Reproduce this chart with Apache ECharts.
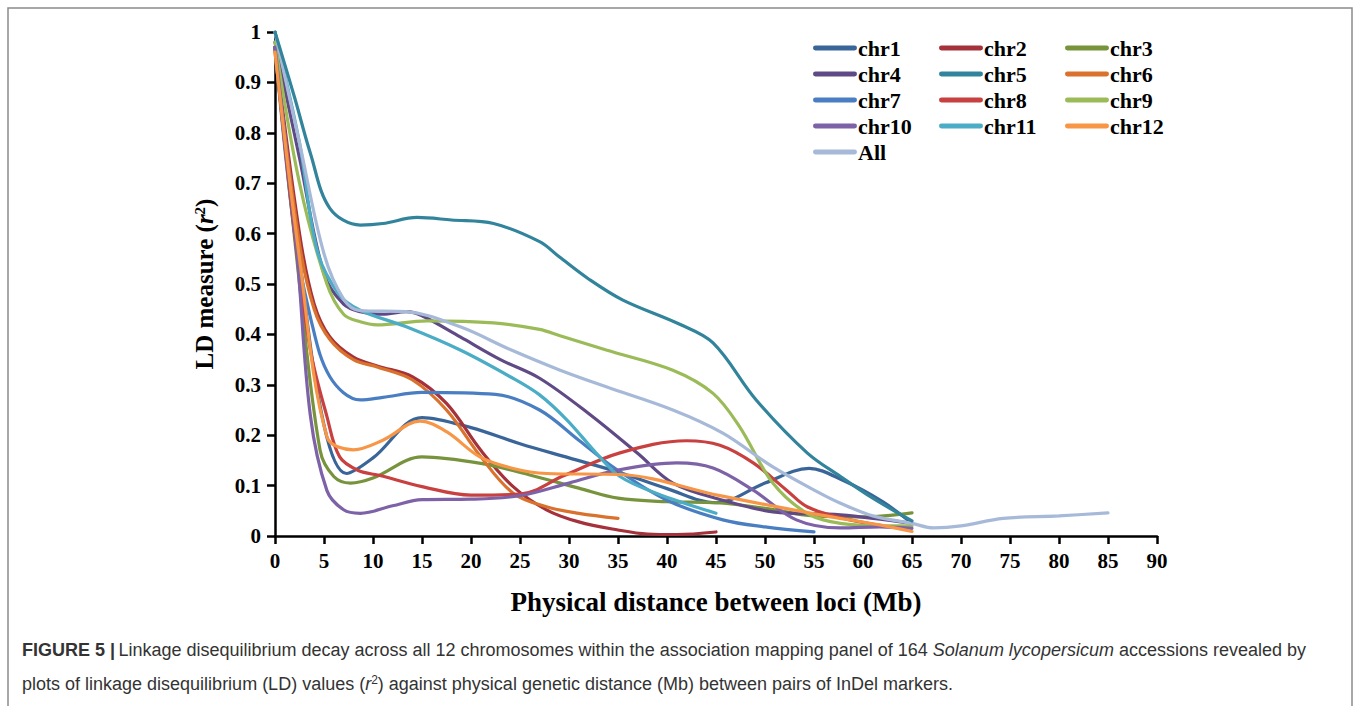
<!DOCTYPE html>
<html>
<head>
<meta charset="utf-8">
<script src="https://cdn.jsdelivr.net/npm/echarts@6/dist/echarts.min.js"></script>
<style>
html,body{margin:0;padding:0;background:#fff;}
#chart{width:1355px;height:706px;}
</style>
</head>
<body>
<div id="chart"></div>
<script>
// Series names
var seriesNames = ['chr1','chr2','chr3','chr4','chr5','chr6','chr7','chr8','chr9','chr10','chr11','chr12','All'];
var seriesColors = ['#3A6599','#A5313A','#77933C','#604A86','#31849B','#D9722C','#4A7EC2','#C8403F','#9BBB59','#7E62A8','#4BACC6','#F79646','#A7B9D8'];

// Data: [distance (Mb), r2]
var chr1 = [[0,0.97],[2.5,0.55],[5,0.22],[7.3,0.124],[10,0.155],[15,0.235],[20,0.215],[25,0.183],[30,0.155],[35,0.127],[40,0.094],[45,0.066],[50,0.105],[54.5,0.134],[58,0.11],[62,0.068],[65,0.025]];
var chr2 = [[0,0.97],[2.5,0.6],[4,0.46],[5.6,0.395],[8,0.355],[10.5,0.337],[14,0.316],[17.5,0.263],[21,0.17],[24.3,0.098],[27.7,0.052],[31,0.028],[35,0.012],[38,0.004],[41,0.003],[45,0.008]];
var chr3 = [[0,0.97],[2.5,0.5],[4.6,0.17],[6,0.118],[7.7,0.105],[10,0.115],[15,0.157],[21,0.144],[26,0.121],[31,0.095],[35,0.075],[40,0.068],[45,0.066],[50,0.055],[55,0.04],[60,0.038],[65,0.046]];
var chr4 = [[0,0.98],[2.5,0.75],[5,0.52],[7,0.46],[8.7,0.445],[11,0.44],[13.4,0.445],[15,0.437],[18.9,0.395],[23,0.35],[27,0.313],[32,0.243],[37,0.164],[40.6,0.105],[45.7,0.071],[50.8,0.048],[57.7,0.042],[65,0.025]];
var chr5 = [[0,1.0],[2,0.87],[3.6,0.76],[5.6,0.65],[8.7,0.617],[11,0.62],[14.5,0.632],[18,0.627],[22.3,0.62],[27,0.584],[29,0.554],[32,0.51],[35.5,0.468],[41.3,0.42],[44.7,0.383],[49.1,0.27],[54.3,0.165],[57.7,0.118],[61,0.075],[65,0.03]];
var chr6 = [[0,0.96],[2.5,0.58],[4,0.45],[5.6,0.39],[8,0.35],[10.5,0.335],[14,0.31],[17.5,0.25],[21,0.157],[24.3,0.085],[27.7,0.058],[31,0.045],[35,0.035]];
var chr7 = [[0,0.97],[2,0.6],[3.6,0.435],[5.6,0.316],[8.7,0.27],[11,0.275],[15,0.285],[22.5,0.281],[27,0.25],[31,0.19],[34.5,0.137],[40,0.071],[45.7,0.032],[50,0.018],[55,0.008]];
var chr8 = [[0,0.97],[2,0.6],[3.6,0.37],[5.3,0.237],[6.6,0.157],[8.5,0.13],[10.7,0.12],[15,0.098],[20,0.081],[25,0.083],[29.5,0.12],[35.2,0.165],[42,0.189],[45.4,0.18],[48.8,0.145],[52.2,0.091],[54.3,0.058],[58,0.035],[62,0.02]];
var chr9 = [[0,0.98],[2.5,0.7],[5.3,0.5],[7,0.44],[8.7,0.425],[10.4,0.419],[15.5,0.427],[22.3,0.423],[27,0.41],[29,0.398],[33.8,0.369],[40.6,0.329],[44.7,0.283],[47.4,0.217],[50.8,0.105],[54.3,0.045],[57.7,0.025],[62,0.02],[65,0.02]];
var chr10 = [[0,0.97],[2.2,0.57],[3.6,0.24],[5.3,0.09],[7,0.052],[8.7,0.045],[12,0.06],[15,0.072],[20,0.073],[25,0.08],[30,0.105],[35,0.131],[41,0.145],[44.7,0.135],[48.8,0.091],[53.2,0.032],[57.7,0.016],[61.7,0.018],[65,0.015]];
var chr11 = [[0,1.0],[2.5,0.78],[4.3,0.567],[6.5,0.48],[8.7,0.448],[13.4,0.415],[18.9,0.369],[24,0.316],[27,0.28],[29.8,0.23],[32.8,0.164],[35.2,0.118],[38.9,0.085],[45,0.045]];
var chr12 = [[0,0.96],[2.5,0.55],[5.3,0.197],[8,0.171],[11,0.19],[14.8,0.228],[17.5,0.207],[20.9,0.157],[24.3,0.134],[27.7,0.124],[35.2,0.122],[45.4,0.08],[55.6,0.042],[61.7,0.022],[65,0.009]];
var allChr = [[0,1.0],[2.5,0.78],[5,0.56],[7,0.47],[8.7,0.447],[13.4,0.445],[18.9,0.415],[24,0.37],[29.1,0.329],[33.8,0.296],[40.6,0.25],[45.7,0.204],[50.8,0.137],[55.6,0.085],[57.7,0.065],[61,0.04],[65,0.025],[67.2,0.016],[70,0.02],[74.3,0.035],[80,0.04],[85,0.046]];

var seriesData = [chr1,chr2,chr3,chr4,chr5,chr6,chr7,chr8,chr9,chr10,chr11,chr12,allChr];

// Axis ticks
var xMin = 0, xMax = 90, xStep = 5;
var yMin = 0, yMax = 1, yStep = 0.1;

var captionLine1 = 'Linkage disequilibrium decay across all 12 chromosomes within the association mapping panel of 164 ';
var captionItalic = 'Solanum lycopersicum';
var captionLine1b = ' accessions revealed by';
var captionLine2a = 'plots of linkage disequilibrium (LD) values (';
var captionLine2b = ') against physical genetic distance (Mb) between pairs of InDel markers.';

var serif = '"Liberation Serif","Times New Roman",serif';
var sans = '"Liberation Sans",Arial,sans-serif';

var chart = echarts.init(document.getElementById('chart'), null, {renderer:'svg'});

var series = seriesNames.map(function(n,i){
  return {
    name:n, type:'line', data:seriesData[i], smooth:0.35, symbol:'none',
    lineStyle:{width:3.2, color:seriesColors[i], cap:'round'},
    itemStyle:{color:seriesColors[i]},
    z: (n==='chr5'?3:2)
  };
});

function legendCol(names, left){
  return {
    orient:'vertical', left:left, top:32, data:names,
    itemWidth:44, itemHeight:12, itemGap:4,
    icon:'path://M2,4 L42,4 A2.5,2.5 0 0 1 42,9 L2,9 A2.5,2.5 0 0 1 2,4 Z',
    textStyle:{fontFamily:serif, fontWeight:'bold', fontSize:22, color:'#000', padding:[0,0,0,-4]},
    selectedMode:false
  };
}

var option = {
  backgroundColor:'#fff',
  animation:false,
  grid:{left:275, right:198, top:32, bottom:170, containLabel:false},
  legend:[
    legendCol(['chr1','chr4','chr7','chr10','All'], 808),
    legendCol(['chr2','chr5','chr8','chr11'], 934),
    legendCol(['chr3','chr6','chr9','chr12'], 1060)
  ],
  xAxis:{
    type:'value', min:xMin, max:xMax, interval:xStep,
    name:'Physical distance between loci (Mb)', nameLocation:'middle', nameGap:52,
    nameTextStyle:{fontFamily:serif, fontWeight:'bold', fontSize:27, color:'#000'},
    axisLine:{show:true, lineStyle:{color:'#000', width:2.5}},
    axisTick:{show:true, length:8, lineStyle:{color:'#000', width:2.5}},
    axisLabel:{fontFamily:serif, fontWeight:'bold', fontSize:21, color:'#000', margin:14},
    splitLine:{show:false}
  },
  yAxis:{
    type:'value', min:yMin, max:yMax, interval:yStep,
    name:'LD measure ({i|r}{s|2})', nameLocation:'middle', nameGap:58, nameRotate:90,
    nameTextStyle:{fontFamily:serif, fontWeight:'bold', fontSize:25, color:'#000',
      rich:{i:{fontFamily:serif, fontStyle:'italic', fontWeight:'bold', fontSize:25, color:'#000'},
            s:{fontFamily:serif, fontWeight:'bold', fontSize:15, color:'#000', verticalAlign:'top', padding:[0,0,10,0]}}},
    axisLine:{show:true, lineStyle:{color:'#000', width:2.5}},
    axisTick:{show:true, length:8, lineStyle:{color:'#000', width:2.5}},
    axisLabel:{fontFamily:serif, fontWeight:'bold', fontSize:21, color:'#000', margin:14,
      formatter:function(v){ return String(Math.round(v*10)/10); }},
    splitLine:{show:false}
  },
  graphic:[
    {type:'polyline', shape:{points:[[8,706],[8,8],[1352,8],[1352,706]]}, style:{stroke:'#8a8a8a', lineWidth:1.5, fill:null}, silent:true},
    {type:'text', left:22, top:641, style:{
      text:'{b|FIGURE 5 |} {n|'+captionLine1+'}{it|'+captionItalic+'}{n|'+captionLine1b+'}',
      rich:{
        b:{fontFamily:sans, fontWeight:'bold', fontSize:18, fill:'#333'},
        n:{fontFamily:sans, fontSize:18, fill:'#333'},
        it:{fontFamily:sans, fontStyle:'italic', fontSize:18, fill:'#333'}
      }}},
    {type:'text', left:22, top:674, style:{
      text:'{n|'+captionLine2a+'}{it|r}{s|2}{n|'+captionLine2b+'}',
      rich:{
        n:{fontFamily:sans, fontSize:18, fill:'#333'},
        it:{fontFamily:sans, fontStyle:'italic', fontSize:18, fill:'#333'},
        s:{fontFamily:sans, fontSize:12, fill:'#333', verticalAlign:'top', padding:[0,0,8,0]}
      }}}
  ],
  series:series
};
chart.setOption(option);
</script>
</body>
</html>
